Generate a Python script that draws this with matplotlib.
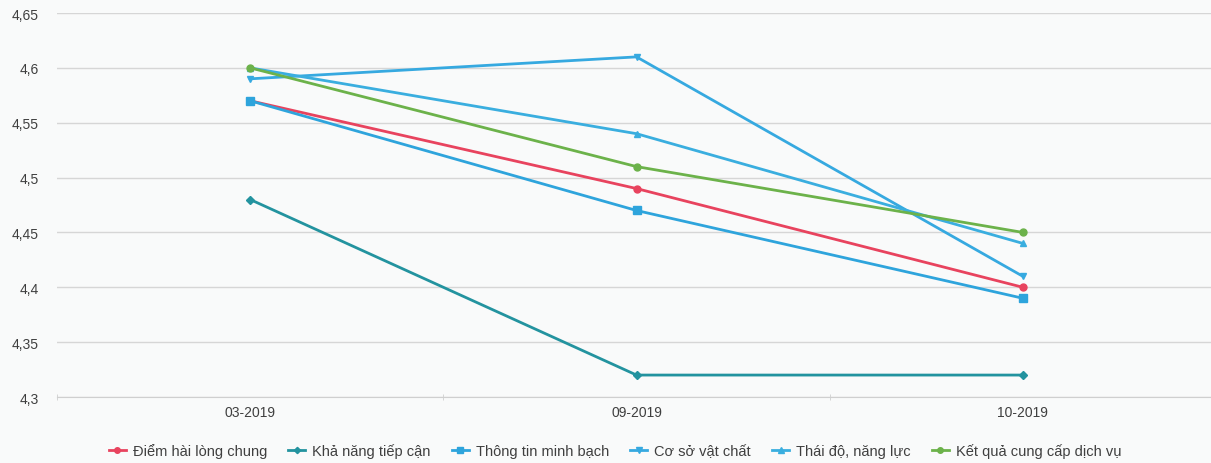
import matplotlib
matplotlib.use("Agg")
import matplotlib.pyplot as plt
from matplotlib.ticker import FuncFormatter, FixedLocator

plt.rcParams['font.family'] = ['Liberation Sans', 'DejaVu Sans']

periods = ["03-2019", "09-2019", "10-2019"]

diem_hai_long = [4.57, 4.49, 4.40]
kha_nang_tiep_can = [4.48, 4.32, 4.32]
thong_tin_minh_bach = [4.57, 4.47, 4.39]
co_so_vat_chat = [4.59, 4.61, 4.41]
thai_do_nang_luc = [4.60, 4.54, 4.44]
ket_qua_dich_vu = [4.60, 4.51, 4.45]

series_names = ["Điểm hài lòng chung", "Khả năng tiếp cận", "Thông tin minh bạch",
                "Cơ sở vật chất", "Thái độ, năng lực", "Kết quả cung cấp dịch vụ"]
series_values = [diem_hai_long, kha_nang_tiep_can, thong_tin_minh_bach,
                 co_so_vat_chat, thai_do_nang_luc, ket_qua_dich_vu]
colors = ["#e8435e", "#23939f", "#2ea4dc", "#36a9e0", "#3aaedf", "#6cb24a"]
markers = ["o", "D", "s", "v", "^", "o"]
msizes = [5, 4, 6, 5, 5, 5]

bg = "#f9fafa"
txt = "#3f3f3f"
fig = plt.figure(figsize=(12.11, 4.64), dpi=100, facecolor=bg)
ax = fig.add_axes([57 / 1211, 1 - 398 / 464, 1 - 57 / 1211, (398 - 14) / 464])
ax.set_facecolor(bg)

x = list(range(len(periods)))
for name, vals, c, m, ms in zip(series_names, series_values, colors, markers, msizes):
    ax.plot(x, vals, color=c, lw=2.0, marker=m, markersize=ms, label=name, zorder=3)

ax.set_ylim(4.3, 4.65)
ax.set_xlim(-0.5, 2.487)
ax.set_yticks([4.3, 4.35, 4.4, 4.45, 4.5, 4.55, 4.6, 4.65])
ax.yaxis.set_major_formatter(FuncFormatter(lambda v, p: f"{v:.2f}".rstrip("0").rstrip(".").replace(".", ",")))
ax.set_xticks(x)
ax.set_xticklabels(periods)
ax.xaxis.set_minor_locator(FixedLocator([-0.5, 0.5, 1.5]))

ax.grid(axis="y", color="#d6d6d6", lw=1.0)
for s in ["top", "right", "left"]:
    ax.spines[s].set_visible(False)
ax.spines["bottom"].set_color("#cfcfcf")
ax.tick_params(axis="y", length=0, pad=13, labelsize=10, labelcolor=txt)
ax.tick_params(axis="x", which="major", length=0, pad=6, labelsize=10, labelcolor=txt)
ax.tick_params(axis="x", which="minor", length=5, color="#cfcfcf", direction="inout")

leg = fig.legend(loc="center", bbox_to_anchor=(0.508, 1 - 452 / 464), ncol=6, frameon=False,
                 fontsize=10.5, handlelength=1.15, handletextpad=0.5, columnspacing=1.45,
                 markerscale=0.8)
for t in leg.get_texts():
    t.set_color(txt)

fig.savefig("out.png", dpi=100, facecolor=bg)
